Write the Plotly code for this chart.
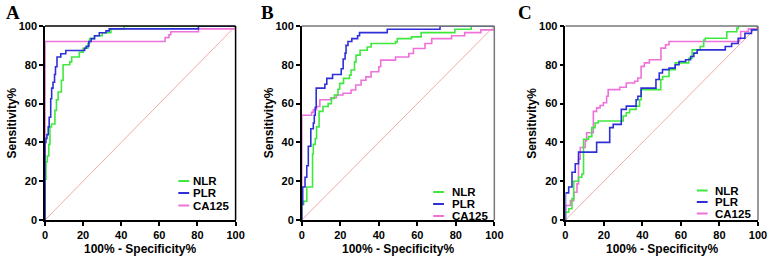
import plotly.graph_objects as go
from plotly.subplots import make_subplots

# ---------------- data ----------------
ticks = [0, 20, 40, 60, 80, 100]
series_names = ["NLR", "PLR", "CA125"]
panel_labels = ["A", "B", "C"]

# Panel A
A_NLR_x = [0, 0, 0.5, 1.2, 2, 2.6, 3.4, 5.2, 6, 6.9, 8.6, 9.5, 13, 14, 18, 20, 22.5, 23.4, 26, 30, 34.6, 41.5, 100]
A_NLR_y = [0, 21, 30, 33, 39, 48, 49.5, 56.5, 62, 66, 72, 80, 81.5, 84, 86.5, 88.5, 91, 93.5, 95, 96.5, 98.5, 100, 100]
A_PLR_x = [0, 0, 0.5, 1, 1.7, 2.2, 3, 3.5, 4.2, 5, 5.5, 6.3, 8.3, 10.9, 20.8, 21.6, 23, 24.2, 26, 28.5, 32, 33.7, 80.5, 100]
A_PLR_y = [0, 40, 42, 44, 48, 53, 62.5, 68, 71, 75, 79, 84, 85.7, 87.4, 88.5, 89.5, 92, 93.5, 95, 96.5, 97.5, 98.5, 100, 100]
A_CA125_x = [0, 0, 63, 65, 66, 80.5, 100]
A_CA125_y = [0, 92, 94, 95.5, 97, 98.5, 100]

# Panel B
B_NLR_x = [0, 0, 1, 2.6, 5.6, 6, 7, 7.7, 9, 11, 13.7, 15.4, 17, 18.8, 19.7, 21.7, 24.8, 25.6, 27.4, 28.2, 30.3, 34, 36, 48.7, 49.6, 57, 62, 79.5, 88, 100]
B_NLR_y = [0, 8, 9.7, 17, 34, 39, 42, 48, 56, 58.5, 60, 62.7, 64.4, 67.4, 70.4, 73, 74.7, 77.3, 81.5, 85, 87.5, 89.2, 91, 91.8, 93.5, 94.4, 96.6, 98.3, 100, 100]
B_PLR_x = [0, 0, 0.5, 1.7, 2.6, 3.4, 4.7, 6, 6.5, 7, 7.5, 12, 13, 16, 20.5, 21.5, 22.5, 23, 24, 26, 29, 30, 44.4, 71.8, 100]
B_PLR_y = [0, 8, 17, 22, 28, 38, 47, 50, 54, 58, 68, 70, 73, 75, 78, 83, 86, 90, 92, 93.5, 95, 96.6, 98.3, 100, 100]
B_CA125_x = [0, 0, 5.1, 6, 7.7, 9.4, 15, 18, 21.4, 25.6, 28, 30.8, 33.3, 36, 40, 41, 48.7, 55.6, 58, 64, 67.5, 77.8, 84.6, 93, 100]
B_CA125_y = [0, 54, 55.5, 56.8, 58.5, 62, 63, 64.4, 65.3, 67, 69.6, 72, 73.8, 76.4, 79, 82.4, 84, 85.8, 88.4, 91, 93.5, 95, 96.6, 98, 100]

# Panel C
C_NLR_x = [0, 0, 1.7, 3.4, 4.3, 6.8, 8.5, 9.4, 12, 13.7, 15.4, 17, 28.2, 30, 31.6, 33.3, 36.7, 38.5, 39.3, 49.5, 50.5, 53.8, 57, 64, 65.8, 70, 71.8, 72.6, 83.8, 89, 89.7, 100]
C_NLR_y = [0, 4, 5.8, 11, 20, 22, 23.7, 41.6, 43, 47.6, 50, 51, 51, 53.6, 55.3, 57, 58.7, 62, 67.2, 72.4, 74, 77.5, 81, 83.4, 87.7, 89.4, 92.8, 93.7, 97, 98.8, 100, 100]
C_PLR_x = [0, 0, 1.7, 3.4, 5.1, 6.8, 15.4, 16.2, 22.2, 23, 24.8, 28.2, 29, 31.6, 35, 36.7, 37.6, 39.3, 46, 47, 48.7, 50.4, 53.8, 57, 59, 62.4, 65, 66.7, 68.4, 83, 86.3, 89.7, 93.2, 96.6, 100]
C_PLR_y = [0, 14, 17, 24.6, 29, 35, 35, 40, 40, 47.6, 49.3, 49.3, 57, 58.7, 58.7, 62, 63.8, 68, 68, 72.4, 75.8, 77.5, 78.3, 80, 81.7, 82.6, 84.3, 86, 87.7, 89.4, 91, 93.7, 96.2, 98, 100]
C_CA125_x = [0, 0, 0.9, 2.6, 4.3, 6, 6.8, 7.7, 10.3, 11, 14.5, 16.2, 18, 19.7, 21.4, 22.2, 28.2, 31.6, 35.9, 37.6, 39.3, 41, 43.6, 49.6, 52, 53.8, 90.4, 91, 95, 100]
C_CA125_y = [0, 7.5, 7.5, 10, 14.3, 18.6, 31.4, 37.4, 40.8, 45, 56, 57.8, 59, 60.4, 63.8, 67.2, 68.4, 70.6, 71.5, 73.2, 79.2, 81, 82.6, 88.6, 90.3, 92, 93.5, 97.2, 98.5, 100]

panels = [
    [(A_NLR_x, A_NLR_y), (A_PLR_x, A_PLR_y), (A_CA125_x, A_CA125_y)],
    [(B_NLR_x, B_NLR_y), (B_PLR_x, B_PLR_y), (B_CA125_x, B_CA125_y)],
    [(C_NLR_x, C_NLR_y), (C_PLR_x, C_PLR_y), (C_CA125_x, C_CA125_y)],
]

# ---------------- style ----------------
colors = ["#3fe83f", "#2f2fd8", "#ee72da"]
diag_color = "#f5a8a8"
border_colors = ["#000000", "#777777", "#777777"]
W, H = 777, 257
ML, MR, MT, MB = 45, 10, 26, 37
PW, PH = W - ML - MR, H - MT - MB

def px_x(px):
    return (px - ML) / PW

def px_y(py):
    return (H - MB - py) / PH

domains = [(px_x(45), px_x(238)), (px_x(305), px_x(500)), (px_x(572), px_x(767))]
legend_pos = [  # (sample start px, text px, row pys)
    (180, 193, [181, 193, 205.5]),
    (438, 455, [192, 204, 216]),
    (705, 721.5, [190.5, 202, 213.5]),
]
label_px = [3, 262, 522]
ytitle_px = [12, 272, 538]

fig = make_subplots(rows=1, cols=3)
font_main = "Arial, Liberation Sans, sans-serif"

shapes = []
annotations = []
for p, curves in enumerate(panels):
    col = p + 1
    # diagonal reference line
    fig.add_trace(go.Scatter(x=[0, 100], y=[0, 100], mode="lines",
                             line=dict(color=diag_color, width=1),
                             showlegend=False, hoverinfo="skip"), row=1, col=col)
    order = [2, 0, 1]
    for s in order:
        xs, ys = curves[s]
        fig.add_trace(go.Scatter(x=xs, y=ys, mode="lines", name=series_names[s],
                                 line=dict(color=colors[s], width=1.6, shape="hv"),
                                 showlegend=False), row=1, col=col)
    xa = "x" if col == 1 else f"x{col}"
    ya = "y" if col == 1 else f"y{col}"
    # top and right borders
    shapes.append(dict(type="line", xref=f"{xa} domain", yref=f"{ya} domain",
                       x0=0, x1=1, y0=1, y1=1, line=dict(color=border_colors[p], width=1.5)))
    shapes.append(dict(type="line", xref=f"{xa} domain", yref=f"{ya} domain",
                       x0=1, x1=1, y0=0, y1=1, line=dict(color=border_colors[p], width=1.5)))
    # legend
    sx, tx, rows = legend_pos[p]
    for s in range(3):
        yy = px_y(rows[s])
        shapes.append(dict(type="line", xref="paper", yref="paper",
                           x0=px_x(sx), x1=px_x(sx + 11), y0=yy, y1=yy,
                           line=dict(color=colors[s], width=2)))
        annotations.append(dict(text=f"<b>{series_names[s]}</b>", xref="paper", yref="paper",
                                x=px_x(tx), y=yy, xanchor="left", yanchor="middle",
                                showarrow=False, font=dict(size=11.5, color="black", family=font_main)))
    # panel label
    annotations.append(dict(text=f"<b>{panel_labels[p]}</b>", xref="paper", yref="paper",
                            x=px_x(label_px[p]), y=px_y(12), xanchor="left", yanchor="middle",
                            showarrow=False,
                            font=dict(size=19, color="black", family="Liberation Serif, Times New Roman, serif")))
    # y title
    annotations.append(dict(text="<b>Sensitivity%</b>", xref="paper", yref="paper",
                            x=px_x(ytitle_px[p]), y=0.5, xanchor="center", yanchor="middle",
                            textangle=-90, showarrow=False,
                            font=dict(size=12, color="black", family=font_main)))
    # x title
    cx = (domains[p][0] + domains[p][1]) / 2
    annotations.append(dict(text="<b>100% - Specificity%</b>", xref="paper", yref="paper",
                            x=cx, y=px_y(249), xanchor="center", yanchor="middle",
                            showarrow=False, font=dict(size=12, color="black", family=font_main)))

    axis_common = dict(range=[0, 100], tickvals=ticks, ticktext=[f"<b>{t}</b>" for t in ticks],
                       showgrid=False, zeroline=False, showline=True, linecolor="black",
                       linewidth=1.5, ticks="outside", ticklen=4, tickwidth=1.5,
                       tickcolor="black", tickfont=dict(size=11, color="black", family=font_main))
    fig.update_xaxes(domain=list(domains[p]), **axis_common, row=1, col=col)
    fig.update_yaxes(**axis_common, row=1, col=col)

fig.update_layout(width=W, height=H, margin=dict(l=ML, r=MR, t=MT, b=MB),
                  plot_bgcolor="white", paper_bgcolor="white",
                  shapes=shapes, annotations=annotations, showlegend=False)

fig.write_html("out.html", config={"displayModeBar": False},
               post_script="document.body.style.margin='0px';document.body.style.overflow='hidden';")
